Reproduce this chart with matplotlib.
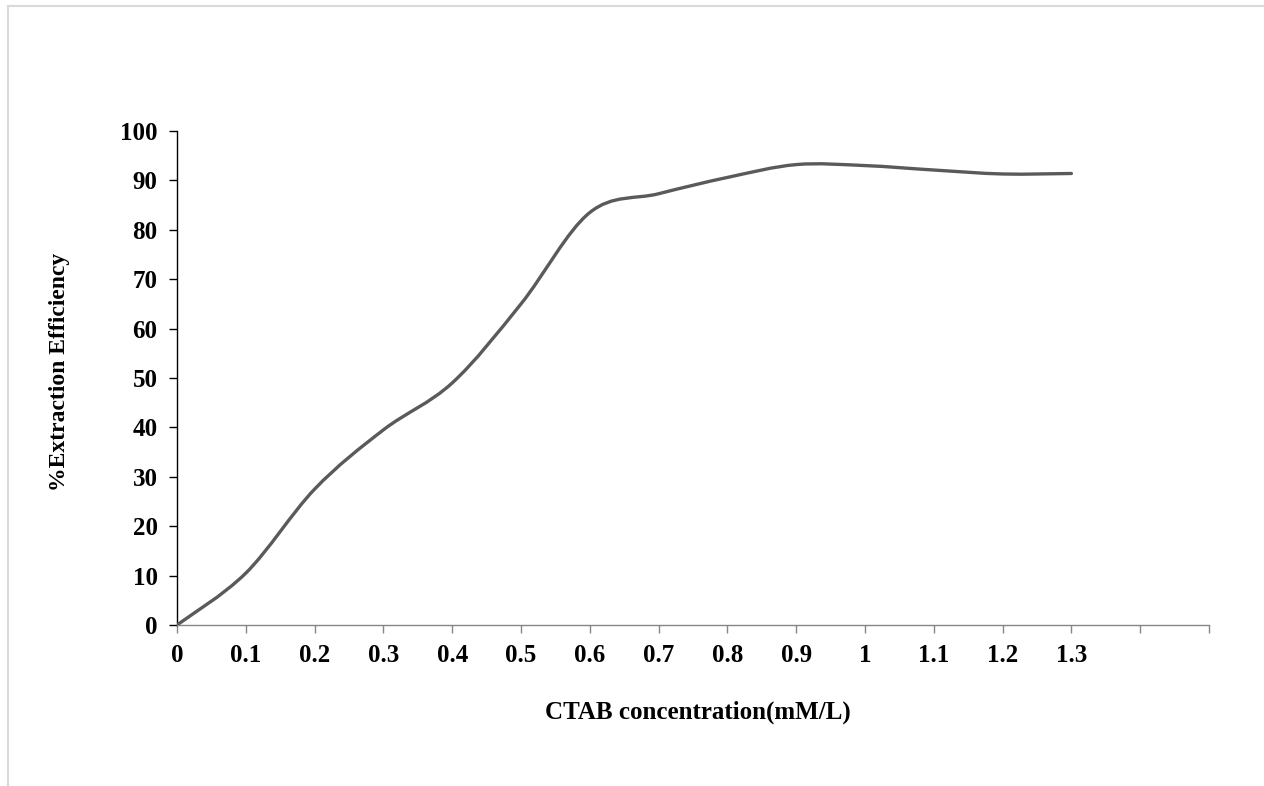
import matplotlib
matplotlib.use('Agg')
import matplotlib.pyplot as plt
from matplotlib.path import Path
from matplotlib.patches import PathPatch
from matplotlib.lines import Line2D

# CTAB concentration (mM/L) categories and % extraction efficiency
conc_labels = ["0", "0.1", "0.2", "0.3", "0.4", "0.5", "0.6", "0.7",
               "0.8", "0.9", "1", "1.1", "1.2", "1.3", "", ""]
efficiency = [0, 10.5, 27.5, 39.5, 49, 65, 83.5, 87.3, 90.6, 93.2,
              93.0, 92.1, 91.3, 91.4]


def smooth_path(xs, ys):
    # Excel-style smoothed line: cubic Bezier segments through the points
    verts = [(xs[0], ys[0])]
    codes = [Path.MOVETO]
    n = len(xs)
    for i in range(n - 1):
        i0 = max(i - 1, 0)
        i3 = min(i + 2, n - 1)
        c1 = (xs[i] + (xs[i + 1] - xs[i0]) / 6, ys[i] + (ys[i + 1] - ys[i0]) / 6)
        c2 = (xs[i + 1] - (xs[i3] - xs[i]) / 6, ys[i + 1] - (ys[i3] - ys[i]) / 6)
        verts += [c1, c2, (xs[i + 1], ys[i + 1])]
        codes += [Path.CURVE4] * 3
    return Path(verts, codes)


plt.rcParams['font.family'] = ['Liberation Serif', 'DejaVu Serif']
plt.rcParams['font.weight'] = 'bold'

fig = plt.figure(figsize=(12.64, 7.86), dpi=100)
ax = fig.add_axes([177 / 1264, 1 - 625 / 786, (1209 - 177) / 1264, (625 - 131) / 786])

xs = list(range(len(efficiency)))
ax.add_patch(PathPatch(smooth_path(xs, efficiency), facecolor='none',
                       edgecolor='#5a5a5a', lw=2.4, capstyle='round', zorder=3))

ax.set_xlim(0, len(conc_labels) - 1)
ax.set_ylim(0, 100)
ax.set_xticks(range(len(conc_labels)))
ax.set_xticklabels(conc_labels)
ax.set_yticks(range(0, 101, 10))

for s in ['top', 'right']:
    ax.spines[s].set_visible(False)
ax.spines['left'].set_color('black')
ax.spines['left'].set_linewidth(1.0)
ax.spines['bottom'].set_color('#868686')
ax.spines['bottom'].set_linewidth(1.0)

ax.tick_params(axis='y', direction='out', length=6, width=1.0, color='black',
               labelsize=18, pad=8)
ax.tick_params(axis='x', direction='out', length=6, width=1.0, color='#868686',
               labelsize=18, pad=8)
for lab in ax.get_xticklabels() + ax.get_yticklabels():
    lab.set_fontweight('bold')

fig.text(698 / 1264, 1 - 712 / 786, "CTAB concentration(mM/L)", ha='center',
         va='center', fontsize=18, fontweight='bold')
fig.text(59 / 1264, 1 - 372 / 786, "%Extraction Efficiency", ha='center',
         va='center', rotation=90, fontsize=17, fontweight='bold')

# light chart-area border (cropped on right and bottom)
fig.add_artist(Line2D([8 / 1264, 1], [1 - 6 / 786, 1 - 6 / 786],
                      transform=fig.transFigure, color='#d9d9d9', lw=1.5))
fig.add_artist(Line2D([8 / 1264, 8 / 1264], [0, 1 - 6 / 786],
                      transform=fig.transFigure, color='#d9d9d9', lw=1.5))

fig.savefig('out.png', dpi=100)
